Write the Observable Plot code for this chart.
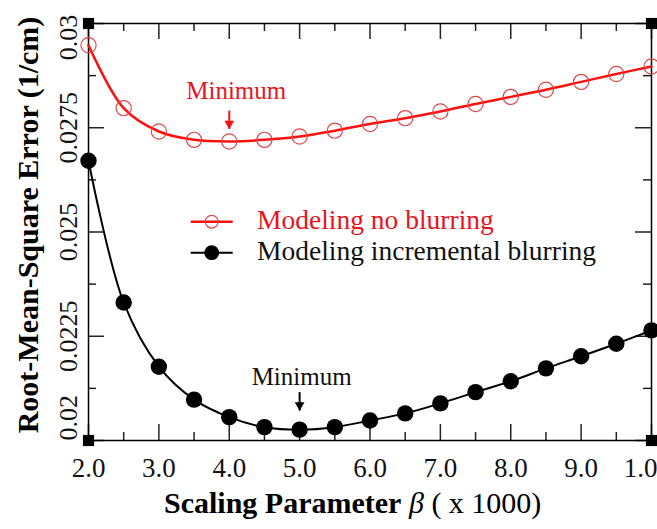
<!DOCTYPE html>
<html>
<head>
<meta charset="utf-8">
<script src="https://cdn.jsdelivr.net/npm/d3@7"></script>
<script src="https://cdn.jsdelivr.net/npm/@observablehq/plot@0.6"></script>
<style>
  html, body { margin: 0; padding: 0; background: #fff; }
  #wrap { position: relative; width: 657px; height: 529px; overflow: hidden; font-family: "Liberation Serif", "Times New Roman", serif; }
  #xtitle { position: absolute; left: 164px; top: 488px; font-size: 30px; line-height: 1; white-space: nowrap; color: #000; }
  #xtitle b { font-weight: bold; }
  #xtitle i { font-style: italic; }
  #legend { position: absolute; left: 0; top: 0; }
</style>
</head>
<body>
<div id="wrap">
  <div id="chart"></div>
  <svg id="legend" width="657" height="480"></svg>
  <div id="xtitle"><b>Scaling Parameter</b> <i>β</i> ( x 1000)</div>
</div>
<script>
// ---------- data ----------
const beta = [2.0, 2.5, 3.0, 3.5, 4.0, 4.5, 5.0, 5.5, 6.0, 6.5, 7.0, 7.5, 8.0, 8.5, 9.0, 9.5, 10.0];
const noBlur = [0.02948, 0.02797, 0.02741, 0.02721, 0.02717, 0.02721, 0.02729, 0.02743, 0.02759, 0.02773, 0.02789, 0.02807, 0.02824, 0.02841, 0.02860, 0.02879, 0.02897];
const incBlur = [0.02671, 0.02331, 0.02177, 0.02098, 0.02056, 0.02032, 0.02026, 0.02032, 0.02048, 0.02065, 0.02089, 0.02116, 0.02142, 0.02173, 0.02202, 0.02232, 0.02264];
const seriesNames = ["Modeling no blurring", "Modeling incremental blurring"];

const xMajor = [2, 3, 4, 5, 6, 7, 8, 9, 10];
const xMinor = [2.5, 3.5, 4.5, 5.5, 6.5, 7.5, 8.5, 9.5];
const xTickLabels = ["2.0", "3.0", "4.0", "5.0", "6.0", "7.0", "8.0", "9.0", "1.0"];
const yMajor = [0.02, 0.0225, 0.025, 0.0275, 0.03];
const yMinor = [0.02125, 0.02375, 0.02625, 0.02875];
const yTickLabels = ["0.02", "0.0225", "0.025", "0.0275", "0.03"];

// "Minimum" annotations
const minLabel = ["Minimum", "Minimum"];
const minX = [4.0, 5.0];
const minTextY = [0.02839, 0.02152];
const minArrowTop = [0.02791, 0.02116];
const minArrowTip = [0.02747, 0.02072];

// ---------- build ----------
const RED = "#ff1010", RED_MARK = "#e04848", RED_TEXT = "#e8141c";
const W = 657, H = 480, ML = 88, MR = 6, MT = 23, MB = 40;
const FW = W - ML - MR, FH = H - MT - MB;

const red = beta.map((b, i) => ({b, v: noBlur[i]}));
const blk = beta.map((b, i) => ({b, v: incBlur[i]}));
const ann = minX.map((x, i) => ({x, ty: minTextY[i], y1: minArrowTop[i], y2: minArrowTip[i], label: minLabel[i], c: i === 0 ? RED : "#000"}));
const xt = xMajor.map((x, i) => ({x, label: xTickLabels[i]}));
const yt = yMajor.map((y, i) => ({y, label: yTickLabels[i]}));
const corners = [{x: 2, y: 0.02}, {x: 2, y: 0.03}, {x: 10, y: 0.02}, {x: 10, y: 0.03}];
const tickStroke = "#222";

const chart = Plot.plot({
  width: W, height: H,
  marginLeft: ML, marginRight: MR, marginTop: MT, marginBottom: MB,
  style: {fontFamily: "'Liberation Serif', 'Times New Roman', serif", background: "#fff", overflow: "visible"},
  x: {domain: [2, 10], axis: null},
  y: {domain: [0.02, 0.03], axis: null},
  marks: [
    // inward ticks
    Plot.ruleX(xMajor, {x: d => d, insetTop: FH - 16, stroke: tickStroke, strokeWidth: 1.5}),
    Plot.ruleX(xMajor, {x: d => d, insetBottom: FH - 16, stroke: tickStroke, strokeWidth: 1.5}),
    Plot.ruleX(xMinor, {x: d => d, insetTop: FH - 8, stroke: tickStroke, strokeWidth: 1.5}),
    Plot.ruleX(xMinor, {x: d => d, insetBottom: FH - 8, stroke: tickStroke, strokeWidth: 1.5}),
    Plot.ruleY(yMajor, {y: d => d, insetRight: FW - 16, stroke: tickStroke, strokeWidth: 1.5}),
    Plot.ruleY(yMajor, {y: d => d, insetLeft: FW - 16, stroke: tickStroke, strokeWidth: 1.5}),
    Plot.ruleY(yMinor, {y: d => d, insetRight: FW - 8, stroke: tickStroke, strokeWidth: 1.5}),
    Plot.ruleY(yMinor, {y: d => d, insetLeft: FW - 8, stroke: tickStroke, strokeWidth: 1.5}),
    Plot.frame({stroke: "#000", strokeWidth: 1.5}),
    // tick labels
    Plot.text(xt.slice(0, -1), {x: "x", text: "label", frameAnchor: "bottom", lineAnchor: "middle", textAnchor: "middle", dy: 28, fontSize: 27, fill: "#111"}),
    Plot.text(xt.slice(-1), {x: "x", text: "label", frameAnchor: "bottom", lineAnchor: "middle", textAnchor: "middle", dy: 28, dx: -11, fontSize: 27, fill: "#111"}),
    Plot.text(yt.filter(d => d.y > 0.02 && d.y < 0.03), {y: "y", text: "label", frameAnchor: "left", textAnchor: "middle", lineAnchor: "middle", dx: -20, rotate: -90, fontSize: 26, fill: "#111"}),
    Plot.text(yt.filter(d => d.y === 0.02), {y: "y", text: "label", frameAnchor: "left", textAnchor: "start", lineAnchor: "middle", dx: -20, rotate: -90, fontSize: 26, fill: "#111"}),
    Plot.text(yt.filter(d => d.y === 0.03), {y: "y", text: "label", frameAnchor: "left", textAnchor: "middle", lineAnchor: "middle", dx: -20, dy: 14, rotate: -90, fontSize: 26, fill: "#111"}),
    // y title
    Plot.text(["Root-Mean-Square Error (1/cm)"], {text: d => d, frameAnchor: "left", textAnchor: "middle", lineAnchor: "middle", dx: -60, dy: -7, rotate: -90, fontSize: 30, fontWeight: "bold", fill: "#000"}),
    // series
    Plot.line(red, {x: "b", y: "v", stroke: RED, strokeWidth: 2.5, curve: "catmull-rom"}),
    Plot.dot(red, {x: "b", y: "v", r: 7.6, stroke: RED_MARK, strokeWidth: 1.2, fill: "none"}),
    Plot.line(blk, {x: "b", y: "v", stroke: "#000", strokeWidth: 2, curve: "catmull-rom"}),
    Plot.dot(blk, {x: "b", y: "v", r: 8.2, fill: "#000", stroke: "none"}),
    // corner squares
    Plot.dot(corners, {x: "x", y: "y", symbol: "square", r: 6.3, fill: "#000"}),
    // annotations
    Plot.link(ann, {x1: "x", x2: "x", y1: "y1", y2: "y2", stroke: "c", strokeWidth: 2}),
    Plot.dot(ann, {x: "x", y: "y2", symbol: "triangle", rotate: 180, r: 3.6, dy: -5.4, fill: "c", stroke: "none"}),
    Plot.text(ann.slice(0, 1), {x: "x", y: "ty", text: "label", dx: 7, fontSize: 25, fill: RED_TEXT}),
    Plot.text(ann.slice(1), {x: "x", y: "ty", text: "label", dx: 2, fontSize: 25, fill: "#111"})
  ]
});
document.getElementById("chart").appendChild(chart);

// ---------- legend overlay ----------
const lg = d3.select("#legend");
const legendRows = [
  {name: seriesNames[0], line: RED, text: RED_TEXT, filled: false, y: 221.7},
  {name: seriesNames[1], line: "#000", text: "#111", filled: true, y: 252.7}
];
legendRows.forEach(r => {
  lg.append("line").attr("x1", 190.7).attr("x2", 232.7).attr("y1", r.y).attr("y2", r.y)
    .attr("stroke", r.line).attr("stroke-width", r.filled ? 2 : 2.5);
  if (r.filled) {
    lg.append("circle").attr("cx", 211.7).attr("cy", r.y).attr("r", 7.4).attr("fill", "#000");
  } else {
    lg.append("circle").attr("cx", 211.7).attr("cy", r.y).attr("r", 6.4).attr("fill", "none").attr("stroke", RED_MARK).attr("stroke-width", 1.2);
  }
  lg.append("text").attr("x", 257).attr("y", r.y + 7)
    .attr("font-family", "'Liberation Serif', 'Times New Roman', serif").attr("font-size", 27.5)
    .attr("fill", r.text).text(r.name);
});
</script>
</body>
</html>
